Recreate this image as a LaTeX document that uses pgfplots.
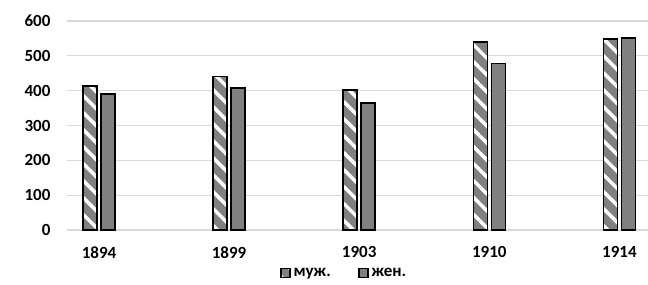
\documentclass[border=0pt]{standalone}
\usepackage{pgfplots}
\pgfplotsset{compat=1.18}
\usetikzlibrary{patterns.meta}
\usepackage{fontspec}
\setmainfont{Carlito}
\definecolor{barg}{RGB}{128,128,128}
\definecolor{gridg}{RGB}{217,217,217}
\begin{document}
\begin{tikzpicture}[x=1pt,y=1pt]
\useasboundingbox (0,0) rectangle (648,284);
\begin{axis}[
  at={(67pt,54pt)}, anchor=south west,
  scale only axis, width=581pt, height=209pt,
  xmin=-0.246, xmax=4.22, ymin=0, ymax=600,
  xtick={0,1,2,3,4},
  xticklabels={1894,1899,1903,1910,1914},
  ytick={0,100,200,300,400,500,600},
  ymajorgrids, major grid style={gridg, line width=1.3pt},
  axis line style={draw=none},
  major tick length=0pt,
  tick label style={font=\fontsize{17}{19}\selectfont\bfseries},
  /pgf/number format/assume math mode=true,
  yticklabel style={xshift=-13pt},
  xticklabel style={yshift=-13pt},
  ybar, bar width=14pt,
  legend style={at={(axis description cs:0.476,-0.206)}, anchor=center, draw=none,
    legend columns=2, font=\fontsize{17}{19}\selectfont\bfseries,
    nodes={inner xsep=1pt},
    /tikz/every odd column/.append style={column sep=2pt},
    /tikz/every even column/.append style={column sep=26pt}},
  legend image code/.code={\draw[#1, line width=1.8pt] (0pt,-4.5pt) rectangle (9pt,4.5pt);},
]
\addplot[bar shift=-9pt, fill=barg, draw=black, line width=1.5pt,
  postaction={pattern={Lines[angle=-45, distance=12pt, line width=3.5pt]}, pattern color=white}]
  coordinates {(0,413) (1,440) (2,402) (3,540) (4,548)};
\addplot[bar shift=9pt, fill=barg, draw=black, line width=1.5pt]
  coordinates {(0,390) (1,408) (2,365) (3,478) (4,551)};
\legend{муж.,жен.}
\end{axis}
\end{tikzpicture}
\end{document}
